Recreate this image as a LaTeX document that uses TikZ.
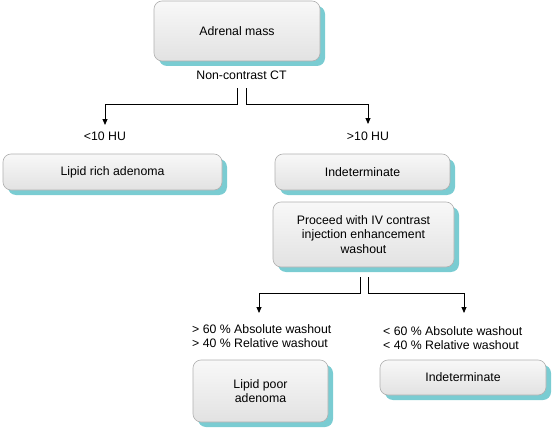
\documentclass[tikz,border=0pt]{standalone}
\usepackage{fontspec}
\setmainfont{Liberation Sans}
\usetikzlibrary{arrows.meta,shadows}
\definecolor{shadowc}{RGB}{122,204,210}
\definecolor{boxline}{RGB}{176,176,176}
\definecolor{boxtop}{RGB}{248,248,248}
\definecolor{boxbot}{RGB}{226,226,226}
\tikzset{
  flowbox/.style={rectangle, rounded corners=8pt, draw=boxline, line width=0.6pt,
    top color=boxtop, bottom color=boxbot, inner sep=0pt, align=center,
    font=\fontsize{12.3}{14.5}\selectfont,
    drop shadow={shadow xshift=5pt, shadow yshift=-5pt, fill=shadowc, opacity=1}},
  lbl/.style={inner sep=0pt, font=\fontsize{12.3}{14}\selectfont, text height=9pt, text depth=3pt},
  wash/.style={inner sep=0pt, align=left, font=\fontsize{12.3}{14}\selectfont},
  conn/.style={draw=black, line width=0.8pt},
  arr/.style={conn, -{Triangle[length=6pt,width=5pt]}}
}
\begin{document}
\begin{tikzpicture}[x=1pt,y=-1pt]
\useasboundingbox (0,0) rectangle (552,428);
% boxes
\node[flowbox, minimum width=166pt, minimum height=60pt] (adr) at (237,31) {Adrenal mass};
\node[lbl, anchor=base] (nct) at (241.5,80) {Non-contrast CT};
\node[lbl] (lt) at (105,137) {<10 HU};
\node[lbl] (rt) at (368,137) {>10 HU};
\node[flowbox, minimum width=219pt, minimum height=36pt] (lrich) at (112.5,172) {Lipid rich adenoma};
\node[flowbox, minimum width=175pt, minimum height=36pt] (ind1) at (362.5,172) {Indeterminate};
\node[flowbox, minimum width=181pt, minimum height=65pt] (pr) at (363.5,234.5) {Proceed with IV contrast\\injection enhancement\\washout};
\node[wash, anchor=west] (wl) at (192,336) {> 60 \% Absolute washout\\> 40 \% Relative washout};
\node[wash, anchor=west] (wr) at (383,338) {< 60 \% Absolute washout\\< 40 \% Relative washout};
\node[flowbox, minimum width=135pt, minimum height=62pt] (lpoor) at (260.5,391) {Lipid poor\\adenoma};
\node[flowbox, minimum width=166pt, minimum height=35pt] (ind2) at (463,377.5) {Indeterminate};
% arrow tips
\coordinate (t1) at (105,125);
\coordinate (t2) at (368,124);
\coordinate (t3) at (259,313);
\coordinate (t4) at (464,313);
% connectors
\draw[arr] ([xshift=-4pt,yshift=-5pt]nct.south) -- ++(0,16) -| (t1);
\draw[arr] ([xshift=4.5pt,yshift=-5pt]nct.south) -- ++(0,16) -| (t2);
\draw[arr] ([xshift=-3.5pt,yshift=-10pt]pr.south) -- ++(0,16) -| (t3);
\draw[arr] ([xshift=4.5pt,yshift=-10pt]pr.south) -- ++(0,16) -| (t4);
\end{tikzpicture}
\end{document}
